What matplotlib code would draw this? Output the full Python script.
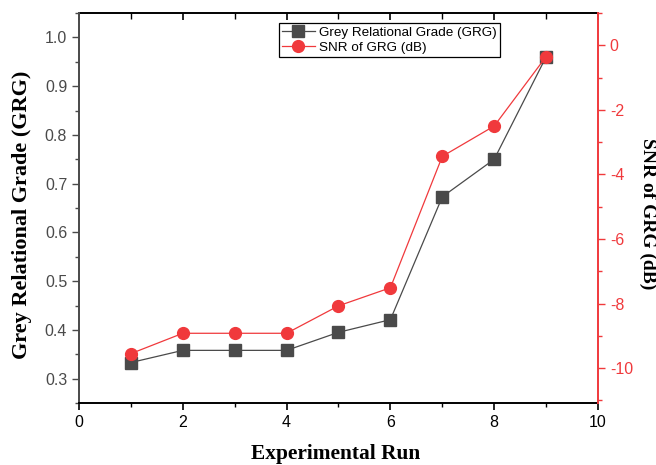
import matplotlib.pyplot as plt
from matplotlib.ticker import MultipleLocator

# Daten
runs = [1, 2, 3, 4, 5, 6, 7, 8, 9]
grg = [0.333, 0.358, 0.358, 0.358, 0.395, 0.421, 0.673, 0.750, 0.960]
snr = [-9.55, -8.92, -8.92, -8.92, -8.07, -7.51, -3.44, -2.50, -0.35]

grau = '#4a4a4a'
rot = '#f0393c'
serif = ['Liberation Serif', 'DejaVu Serif']
sans = ['Liberation Sans', 'DejaVu Sans']

plt.rcParams['font.family'] = sans
plt.rcParams['font.size'] = 11
plt.rcParams['axes.unicode_minus'] = False

fig = plt.figure(figsize=(6.56, 4.65), dpi=100)
ax = fig.add_axes([0.1204, 0.1333, 0.7912, 0.8387])
ax2 = ax.twinx()

l1, = ax.plot(runs, grg, color=grau, marker='s', markersize=8, linewidth=0.9,
              label='Grey Relational Grade (GRG)', zorder=3)
l2, = ax2.plot(runs, snr, color=rot, marker='o', markersize=8.5, linewidth=0.9,
               label='SNR of GRG (dB)', zorder=2)

ax.set_xlim(0, 10)
ax.set_ylim(0.25, 1.05)
ax2.set_ylim(-11.08, 1.0)

ax.xaxis.set_major_locator(MultipleLocator(2))
ax.xaxis.set_minor_locator(MultipleLocator(1))
ax.yaxis.set_major_locator(MultipleLocator(0.1))
ax.yaxis.set_minor_locator(MultipleLocator(0.05))
ax2.yaxis.set_major_locator(MultipleLocator(2))
ax2.yaxis.set_minor_locator(MultipleLocator(1))

ax.tick_params(axis='x', which='major', direction='out', length=5, width=1.2, labelsize=11.5)
ax.tick_params(axis='x', which='minor', direction='out', length=3, width=1.0)
ax.tick_params(axis='y', which='major', length=5, width=1.0, colors=grau, labelsize=11.5)
ax.tick_params(axis='y', which='minor', length=3, width=1.0, colors=grau)
ax2.tick_params(axis='y', which='major', length=5, width=1.0, colors=rot, labelsize=11.5)
ax2.tick_params(axis='y', which='minor', length=3, width=1.0, colors=rot)

# obere Achse mit Ticks nach innen
oben = ax.secondary_xaxis('top')
oben.xaxis.set_major_locator(MultipleLocator(2))
oben.xaxis.set_minor_locator(MultipleLocator(1))
oben.tick_params(axis='x', which='major', direction='in', length=5, width=1.2, labeltop=False)
oben.tick_params(axis='x', which='minor', direction='in', length=4, width=1.0)
oben.spines['top'].set_linewidth(1.4)

ax.spines['left'].set_color(grau)
ax.spines['left'].set_linewidth(1.4)
ax.spines['bottom'].set_linewidth(1.4)
ax.spines['top'].set_visible(False)
ax2.spines['right'].set_color(rot)
ax2.spines['right'].set_linewidth(1.4)
ax2.spines['left'].set_visible(False)
ax2.spines['top'].set_visible(False)
ax2.spines['bottom'].set_visible(False)
ax.spines['right'].set_visible(False)

# Achsentitel
fig.text(336 / 656, 1 - 454 / 465, 'Experimental Run', fontfamily=serif, fontweight='bold',
         fontsize=15.4, ha='center', va='center')
fig.text(22 / 656, 1 - 215 / 465, 'Grey Relational Grade (GRG)', fontfamily=serif,
         fontweight='bold', fontsize=16, rotation=90, ha='center', va='center')
fig.text(648 / 656, 1 - 214 / 465, 'SNR of GRG (dB)', fontfamily=serif, fontweight='bold',
         fontsize=14, rotation=270, ha='center', va='center')

leg = ax2.legend([l1, l2], [l1.get_label(), l2.get_label()], loc='upper left',
                 bbox_to_anchor=(0.385, 0.975), fontsize=9.7, frameon=True, fancybox=False,
                 edgecolor='black', framealpha=1, borderpad=0.25, handlelength=2.4,
                 handletextpad=0.3, labelspacing=0.2, borderaxespad=0)
leg.get_frame().set_linewidth(0.9)

fig.savefig('out.png', dpi=100)
